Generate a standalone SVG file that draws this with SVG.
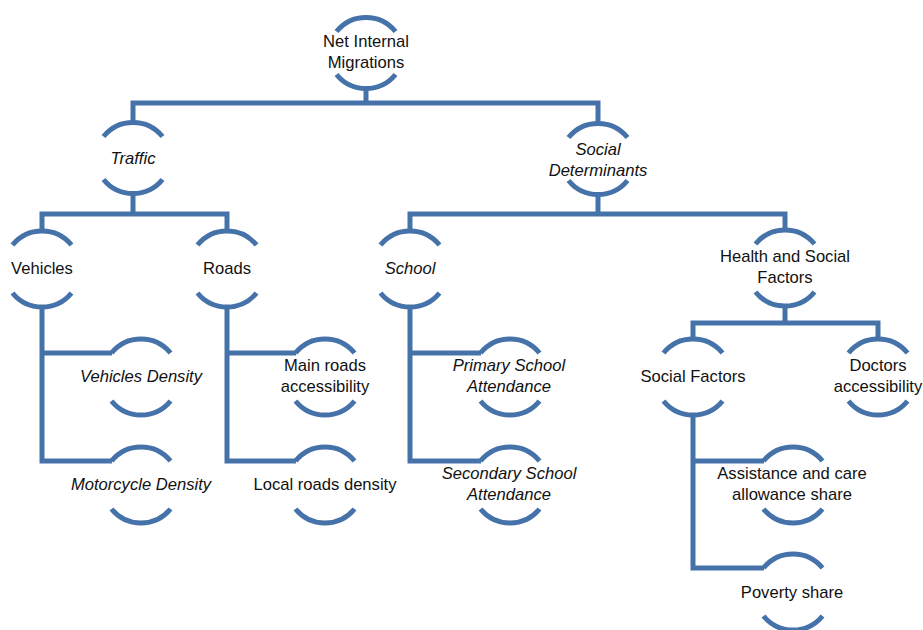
<svg xmlns="http://www.w3.org/2000/svg" xmlns:xlink="http://www.w3.org/1999/xlink" width="923" height="630" viewBox="0 0 923 630">
  <style>
    .arc, .link { fill: none; stroke: #4672aa; stroke-width: 5; stroke-linecap: butt; stroke-linejoin: miter; }
    .lbl { font-family: "Liberation Sans", Arial, sans-serif; font-size: 16.6px; fill: #111111; text-anchor: middle; }
    .it { font-style: italic; }
  </style>
  <defs>
    <!-- arc pieces, anchored at their outermost point -->
    <path id="arc-t" class="arc" d="M-29.5,14 A38,38 0 0 1 29.5,14"/>
    <path id="arc-b" class="arc" d="M-29.5,-14 A38,38 0 0 0 29.5,-14"/>
    <!-- standard ring and a slightly flatter one for the upper levels -->
    <g id="ring"><use xlink:href="#arc-t" href="#arc-t" y="-38"/><use xlink:href="#arc-b" href="#arc-b" y="38"/></g>
    <g id="ring-s"><use xlink:href="#arc-t" href="#arc-t" y="-35.5"/><use xlink:href="#arc-b" href="#arc-b" y="35.5"/></g>
  </defs>
  <rect width="923" height="630" fill="#ffffff"/>

  <g id="connectors">
    <!-- root to level 2 -->
    <path class="link" d="M366,88.5 V103"/>
    <path class="link" d="M133,122.5 V103 H598 V123.5"/>
    <!-- Traffic -->
    <path class="link" d="M133,193.5 V214"/>
    <path class="link" d="M42,231 V214 H227 V231"/>
    <!-- Social Determinants -->
    <path class="link" d="M598,194.5 V214"/>
    <path class="link" d="M410,231 V214 H785 V230"/>
    <!-- Vehicles -->
    <path class="link" d="M42,307 V461 H112"/>
    <path class="link" d="M42,353 H112"/>
    <!-- Roads -->
    <path class="link" d="M227,307 V461 H296"/>
    <path class="link" d="M227,353 H296"/>
    <!-- School -->
    <path class="link" d="M410,307 V461 H481"/>
    <path class="link" d="M410,353 H481"/>
    <!-- Health and Social Factors -->
    <path class="link" d="M785,306 V323"/>
    <path class="link" d="M693,339 V323 H878 V339"/>
    <!-- Social Factors -->
    <path class="link" d="M693,415 V568 H764"/>
    <path class="link" d="M693,461 H764"/>
  </g>

  <g id="node-net-internal-migrations">
    <use xlink:href="#ring-s" href="#ring-s" x="366" y="53"/>
    <text class="lbl" x="366" y="47">Net Internal</text>
    <text class="lbl" x="366" y="68">Migrations</text>
  </g>

  <g id="node-traffic">
    <use xlink:href="#ring-s" href="#ring-s" x="133" y="158"/>
    <text class="lbl it" x="133" y="164">Traffic</text>
  </g>

  <g id="node-social-determinants">
    <use xlink:href="#ring-s" href="#ring-s" x="598" y="159"/>
    <text class="lbl it" x="598" y="155">Social</text>
    <text class="lbl it" x="598" y="176">Determinants</text>
  </g>

  <g id="node-vehicles">
    <use xlink:href="#ring" href="#ring" x="42" y="269"/>
    <text class="lbl" x="42" y="274">Vehicles</text>
  </g>

  <g id="node-roads">
    <use xlink:href="#ring" href="#ring" x="227" y="269"/>
    <text class="lbl" x="227" y="274">Roads</text>
  </g>

  <g id="node-school">
    <use xlink:href="#ring" href="#ring" x="410" y="269"/>
    <text class="lbl it" x="410" y="274">School</text>
  </g>

  <g id="node-health-social-factors">
    <use xlink:href="#ring" href="#ring" x="785" y="268"/>
    <text class="lbl" x="785" y="262">Health and Social</text>
    <text class="lbl" x="785" y="283">Factors</text>
  </g>

  <g id="node-vehicles-density">
    <use xlink:href="#ring" href="#ring" x="141" y="377"/>
    <text class="lbl it" x="141" y="382">Vehicles Density</text>
  </g>

  <g id="node-motorcycle-density">
    <use xlink:href="#ring" href="#ring" x="141" y="485"/>
    <text class="lbl it" x="141" y="490">Motorcycle Density</text>
  </g>

  <g id="node-main-roads">
    <use xlink:href="#ring" href="#ring" x="325" y="377"/>
    <text class="lbl" x="325" y="371">Main roads</text>
    <text class="lbl" x="325" y="392">accessibility</text>
  </g>

  <g id="node-local-roads">
    <use xlink:href="#ring" href="#ring" x="325" y="485"/>
    <text class="lbl" x="325" y="490">Local roads density</text>
  </g>

  <g id="node-primary-school">
    <use xlink:href="#ring" href="#ring" x="510" y="377"/>
    <text class="lbl it" x="509" y="371">Primary School</text>
    <text class="lbl it" x="509" y="392">Attendance</text>
  </g>

  <g id="node-secondary-school">
    <use xlink:href="#ring" href="#ring" x="510" y="485"/>
    <text class="lbl it" x="509" y="479">Secondary School</text>
    <text class="lbl it" x="509" y="500">Attendance</text>
  </g>

  <g id="node-social-factors">
    <use xlink:href="#ring" href="#ring" x="693" y="377"/>
    <text class="lbl" x="693" y="382">Social Factors</text>
  </g>

  <g id="node-doctors">
    <use xlink:href="#ring" href="#ring" x="878" y="377"/>
    <text class="lbl" x="878" y="371">Doctors</text>
    <text class="lbl" x="878" y="392">accessibility</text>
  </g>

  <g id="node-assistance">
    <use xlink:href="#ring" href="#ring" x="793" y="485"/>
    <text class="lbl" x="792" y="479">Assistance and care</text>
    <text class="lbl" x="792" y="500">allowance share</text>
  </g>

  <g id="node-poverty">
    <use xlink:href="#ring" href="#ring" x="793" y="592"/>
    <text class="lbl" x="792" y="598">Poverty share</text>
  </g>
</svg>
